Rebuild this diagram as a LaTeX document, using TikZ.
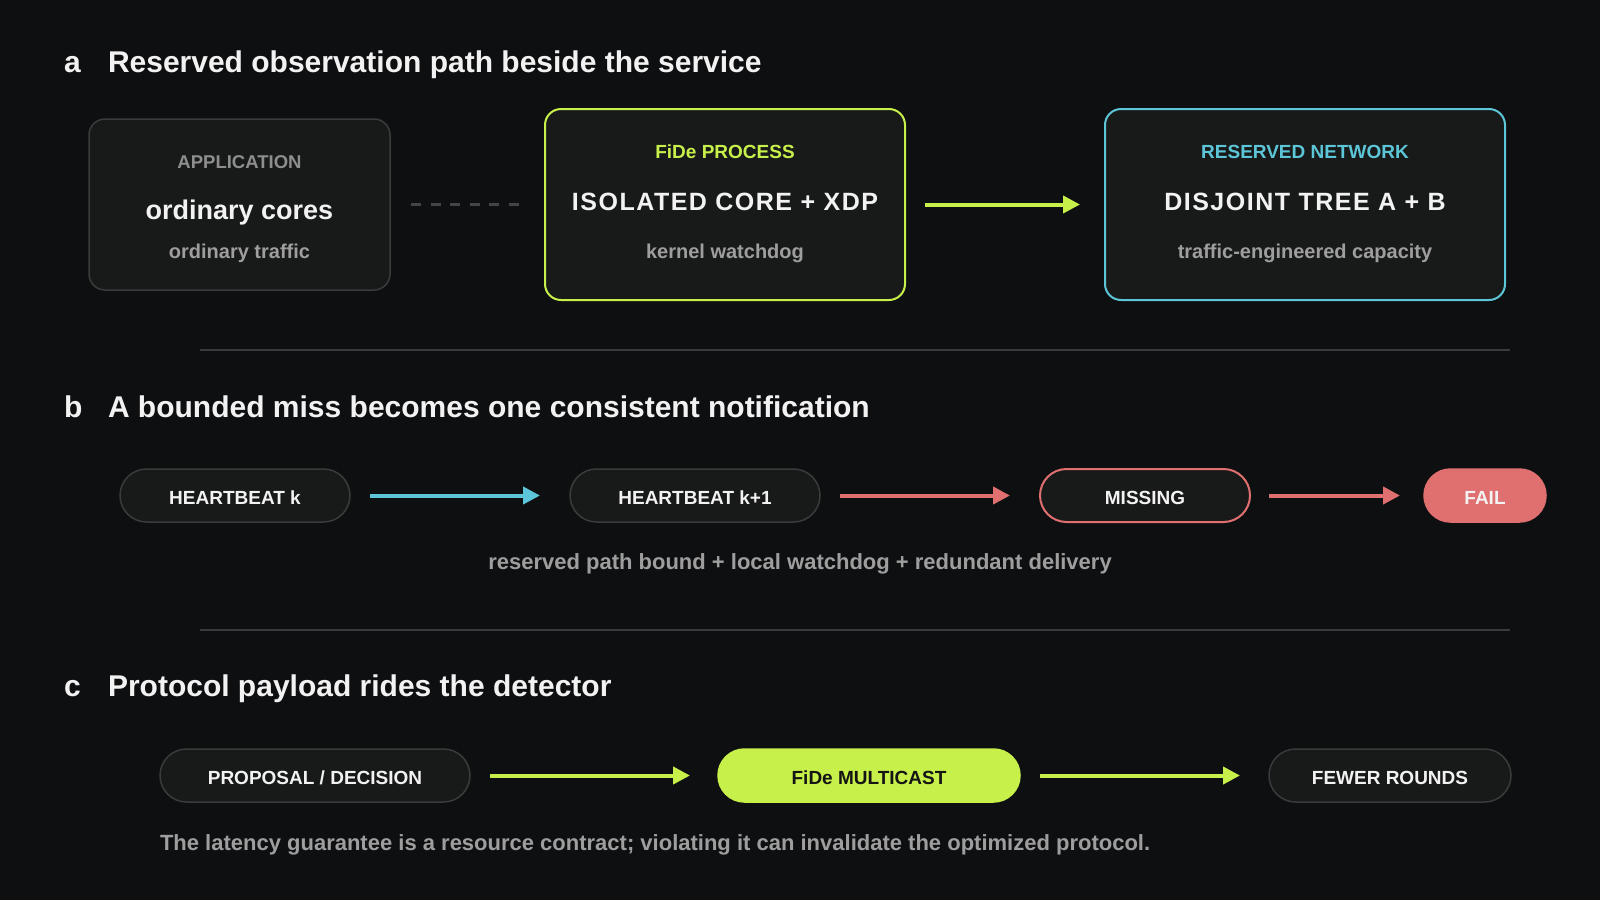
\documentclass[tikz,border=0pt]{standalone}
\usepackage{fontspec}
\setmainfont{Liberation Sans}
\usetikzlibrary{arrows.meta}
\definecolor{bg}{HTML}{0E0F11}
\definecolor{boxfill}{HTML}{181A19}
\definecolor{boxline}{HTML}{3A3C3B}
\definecolor{lime}{HTML}{C8F04A}
\definecolor{cyanc}{HTML}{5CC6D8}
\definecolor{redc}{HTML}{E07070}
\definecolor{txt}{HTML}{F2F2F2}
\definecolor{greyt}{HTML}{9E9E9E}
\definecolor{labt}{HTML}{8E8E8E}
\definecolor{sepc}{HTML}{3A3A3A}
\definecolor{dashc}{HTML}{454545}
\definecolor{darkt}{HTML}{141414}
\begin{document}
\begin{tikzpicture}[x=1pt,y=-1pt,
  every node/.style={inner sep=0pt, outer sep=0pt},
  fs/.style={font=\fontsize{#1}{#1}\selectfont\bfseries},
  title/.style={fs=30, text=txt, anchor=base west},
  panel/.style={draw, line width=2pt, fill=boxfill, rounded corners=16pt, minimum height=#1},
  kicker/.style={fs=19, anchor=base},
  headline/.style={font=\fontsize{25}{25}\selectfont\bfseries\addfontfeature{LetterSpace=6}, text=txt, anchor=base},
  subline/.style={fs=20, text=greyt, anchor=base},
  pill/.style={draw=boxline, line width=1.5pt, fill=boxfill, rounded corners=26.5pt,
    minimum height=53pt, minimum width=#1, fs=19, text=txt, text height=17.5pt, text depth=0pt},
  flow/.style={line width=4pt, -{Triangle[length=17pt,width=17pt]}},
  sepline/.style={draw=sepc, line width=1.5pt},
  caption/.style={fs=22, text=greyt, anchor=base}
]
\fill[bg] (0,0) rectangle (1600,900);
\useasboundingbox (0,0) rectangle (1600,900);

% ---------- a ----------
\node[title] (la) at (64,72) {a};
\node[title] (ta) at (108,72) {Reserved observation path beside the service};

\node[panel=171pt, draw=boxline, line width=1.5pt, minimum width=301pt] (app) at (239.5,204.5) {};
\node[kicker, fs=18.5, text=labt] (appk) at (239.5,168) {APPLICATION};
\node[fs=27, text=txt, anchor=base] (apph) at (239.5,219) {ordinary cores};
\node[subline] (apps) at (239.5,258) {ordinary traffic};

\node[panel=191pt, draw=lime, minimum width=360pt] (proc) at (725,204.5) {};
\node[kicker, text=lime] (prock) at (725,158) {FiDe PROCESS};
\node[headline] (proch) at (725,210) {ISOLATED CORE + XDP};
\node[subline] (procs) at (725,258) {kernel watchdog};

\node[panel=191pt, draw=cyanc, minimum width=400pt] (net) at (1305,204.5) {};
\node[kicker, text=cyanc] (netk) at (1305,158) {RESERVED NETWORK};
\node[headline] (neth) at (1305,210) {DISJOINT TREE A + B};
\node[subline] (nets) at (1305,258) {traffic-engineered capacity};

\draw[draw=dashc, line width=3pt, dash pattern=on 10pt off 9.5pt, shorten <=21pt, shorten >=25pt] (app) -- (proc);
\draw[flow, draw=lime, fill=lime, shorten <=20pt, shorten >=25pt] (proc) -- (net);

\draw[sepline] (200,350) -- (1510,350);

% ---------- b ----------
\node[title] (lb) at (64,417) {b};
\node[title] (tb) at (108,417) {A bounded miss becomes one consistent notification};

\node[pill=230pt] (hk) at (235,495.5) {HEARTBEAT k};
\node[pill=250pt] (hk1) at (695,495.5) {HEARTBEAT k+1};
\node[pill=210pt, draw=redc, line width=2pt] (miss) at (1145,495.5) {MISSING};
\node[pill=122pt, draw=redc, fill=redc] (fail) at (1485,495.5) {FAIL};

\draw[flow, draw=cyanc, fill=cyanc, shorten <=20pt, shorten >=30pt] (hk) -- (hk1);
\draw[flow, draw=redc, fill=redc, shorten <=20pt, shorten >=30pt] (hk1) -- (miss);
\draw[flow, draw=redc, fill=redc, shorten <=19pt, shorten >=24pt] (miss) -- (fail);

\node[caption] (capb) at (800,569) {reserved path bound + local watchdog + redundant delivery};

\draw[sepline] (200,630) -- (1510,630);

% ---------- c ----------
\node[title] (lc) at (64,696) {c};
\node[title] (tc) at (108,696) {Protocol payload rides the detector};

\node[pill=310pt] (prop) at (315,775.5) {PROPOSAL / DECISION};
\node[pill=302pt, draw=lime, fill=lime, text=darkt] (mc) at (869,775.5) {FiDe MULTICAST};
\node[pill=242pt] (few) at (1390,775.5) {FEWER ROUNDS};

\draw[flow, draw=lime, fill=lime, shorten <=20pt, shorten >=28pt] (prop) -- (mc);
\draw[flow, draw=lime, fill=lime, shorten <=20pt, shorten >=29pt] (mc) -- (few);

\node[caption, anchor=base west] (capc) at (160,850) {The latency guarantee is a resource contract; violating it can invalidate the optimized protocol.};
\end{tikzpicture}
\end{document}
